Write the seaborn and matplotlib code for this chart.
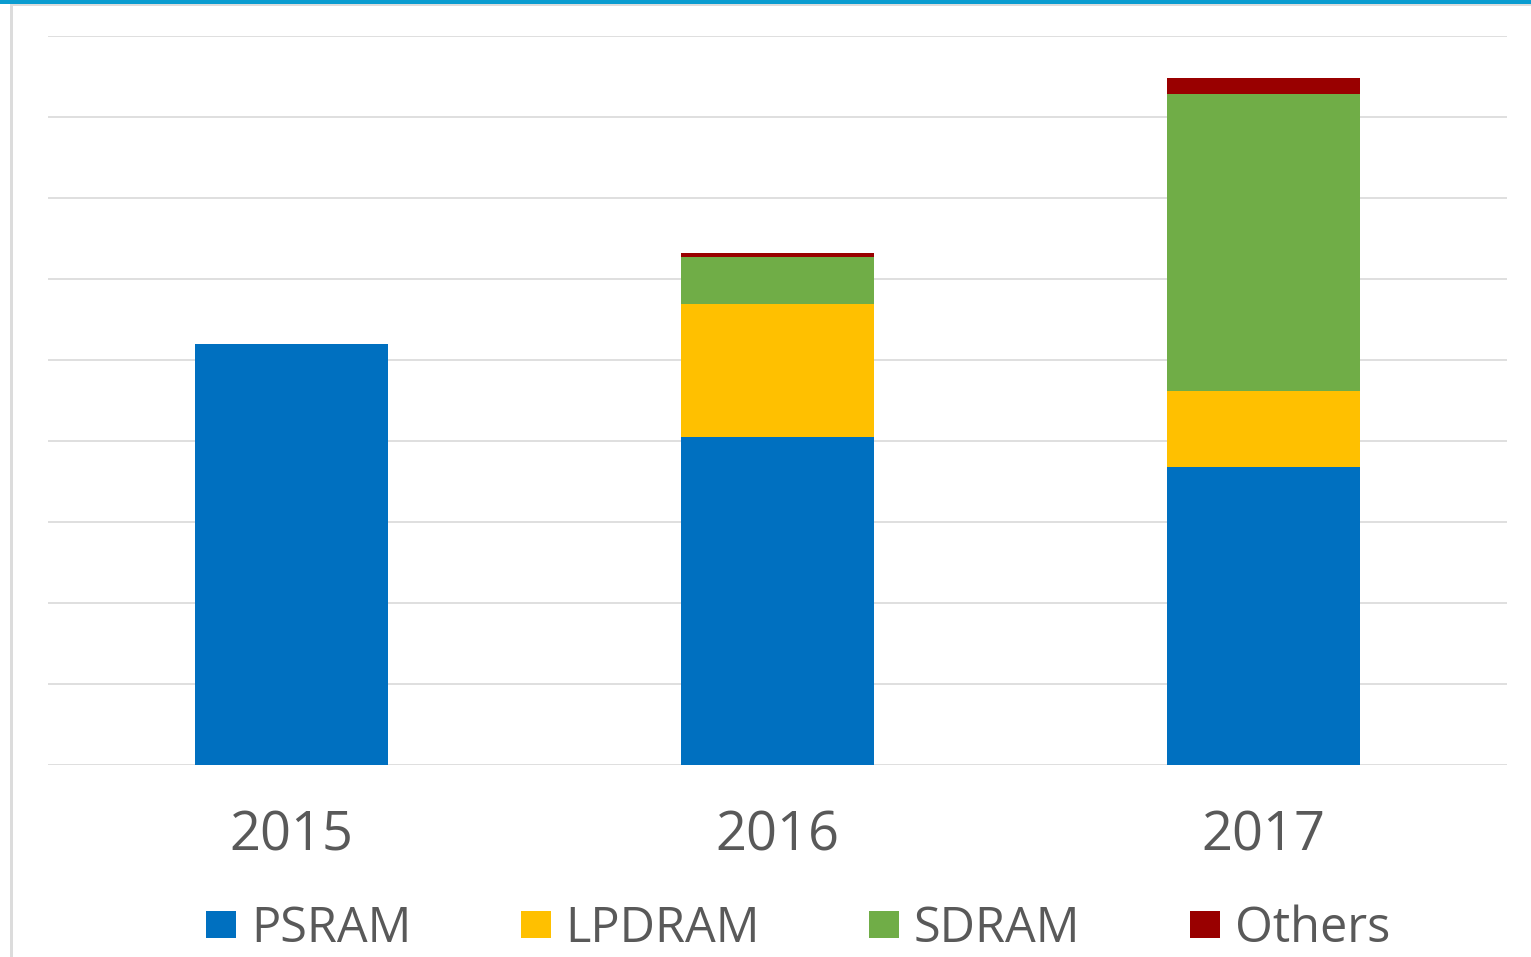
import numpy as np
import pandas as pd
import matplotlib
matplotlib.use('Agg')
import matplotlib.pyplot as plt
import seaborn as sns
from matplotlib.patches import Patch, Rectangle

# data (gridline units)
years = ['2015', '2016', '2017']
series = ['PSRAM', 'LPDRAM', 'SDRAM', 'Others']
psram = [5.20, 4.05, 3.68]
lpdram = [0.00, 1.64, 0.94]
sdram = [0.00, 0.58, 3.67]
others = [0.00, 0.05, 0.19]
colors = ['#0070C0', '#FFC000', '#70AD47', '#990000']

sns.set_theme(style='white')
plt.rcParams['font.family'] = ['Open Sans', 'DejaVu Sans']
text_color = '#595959'

df = pd.DataFrame({'year': years, 'PSRAM': psram, 'LPDRAM': lpdram,
                   'SDRAM': sdram, 'Others': others})
# cumulative totals so the stacks can be drawn back to front
cum = df[series].cumsum(axis=1)

fig = plt.figure(figsize=(15.31, 9.57), dpi=100)
ax = fig.add_axes([48 / 1531, 1 - 765 / 957, (1507 - 48) / 1531, (765 - 36) / 957])

for name, col in reversed(list(zip(series, colors))):
    sns.barplot(x=df['year'], y=cum[name], color=col, width=0.397,
                saturation=1, ax=ax, linewidth=0, zorder=3)

ax.set_ylim(0, 9)
ax.set_xlim(-0.5, 2.5)
ax.set_yticks(np.arange(0, 10, 1))
ax.set_yticklabels([])
ax.tick_params(axis='y', length=0)
ax.tick_params(axis='x', length=0, pad=31, labelsize=39, labelcolor=text_color)
ax.grid(True, axis='y', color='#D9D9D9', linewidth=1.2, zorder=0)
ax.set_axisbelow(True)
ax.set_xlabel('')
ax.set_ylabel('')
for s in ax.spines.values():
    s.set_visible(False)

handles = [Patch(facecolor=c, edgecolor='none', label=n) for n, c in zip(series, colors)]
fig.legend(handles=handles, loc='center', bbox_to_anchor=(798 / 1531, 1 - 929 / 957),
           ncol=4, frameon=False, fontsize=35, labelcolor=text_color,
           handlelength=0.62, handleheight=0.46, handletextpad=0.3,
           columnspacing=2.25, borderpad=0)

# frame decoration: blue top bar, grey shadow, grey left edge
fig.add_artist(Rectangle((0, 1 - 4 / 957), 1, 4 / 957, transform=fig.transFigure,
                         facecolor='#0A9CD0', edgecolor='none'))
fig.add_artist(Rectangle((10 / 1531, 1 - 6 / 957), 1, 2 / 957, transform=fig.transFigure,
                         facecolor='#DCDCDC', edgecolor='none'))
fig.add_artist(Rectangle((10 / 1531, 0), 3 / 1531, 1 - 4 / 957, transform=fig.transFigure,
                         facecolor='#DCDCDC', edgecolor='none'))

fig.savefig('out.png', dpi=100)
